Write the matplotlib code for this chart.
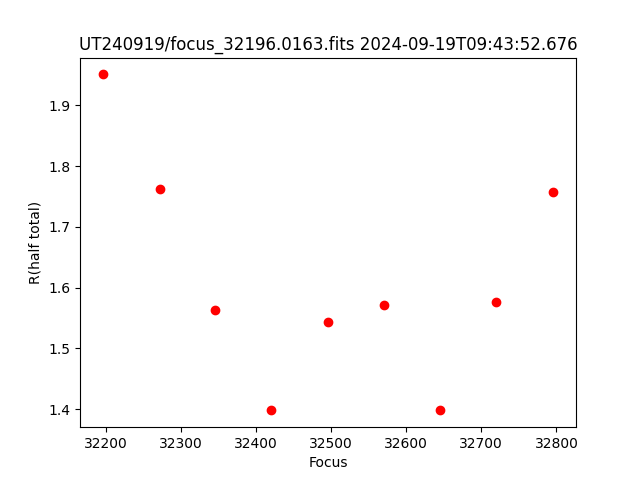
import matplotlib
matplotlib.use("Agg")
import matplotlib.pyplot as plt

focus = [32196, 32273, 32346, 32420, 32496, 32571, 32645, 32720, 32796]
r_half = [1.951, 1.762, 1.563, 1.398, 1.543, 1.571, 1.398, 1.576, 1.757]

fig, ax = plt.subplots(figsize=(6.4, 4.8), dpi=100)
ax.plot(focus, r_half, 'ro')
ax.set_xlabel('Focus')
ax.set_ylabel('R(half total)')
ax.set_title('UT240919/focus_32196.0163.fits 2024-09-19T09:43:52.676')

fig.savefig('out.png')
